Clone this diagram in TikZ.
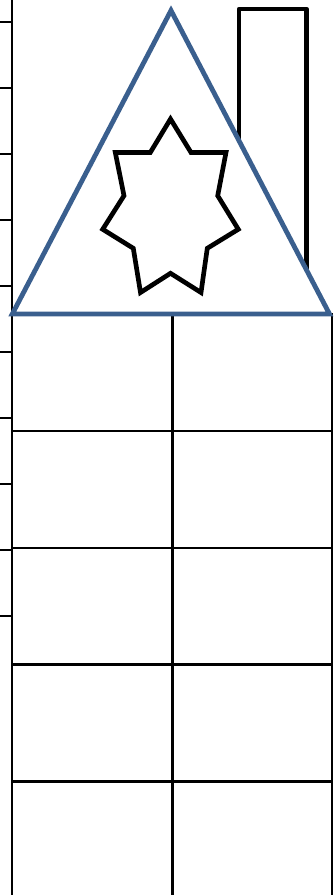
\documentclass[tikz,border=0pt]{standalone}
\usepackage{xcolor}
\definecolor{roofblue}{HTML}{3A5F8E}
\begin{document}
\begin{tikzpicture}[x=0.75pt,y=-0.75pt,
  gridline/.style={draw=black,line width=1.6pt},
  axisline/.style={draw=black,line width=2.2pt},
  tickline/.style={draw=black,line width=1.6pt},
  chimney/.style={draw=black,line width=3.4pt,line join=round,fill=white},
  roof/.style={draw=roofblue,line width=3.6pt,line join=miter,fill=white},
  starshape/.style={draw=black,line width=3.5pt,line join=miter,fill=white}]
\useasboundingbox (0,0) rectangle (333,895);
\fill[white] (0,0) rectangle (333,895);
% grid
\foreach \y in {431,548,664.5,781.5} \draw[gridline] (12,\y) -- (333,\y);
\draw[gridline] (172.5,313) -- (172.5,895);
\draw[gridline] (331.8,313) -- (331.8,895);
% left axis
\draw[axisline] (12,0) -- (12,895);
\foreach \y in {22,88,154,220,286,352,418,484,550,616} \draw[tickline] (0,\y) -- (12,\y);
% chimney
\draw[chimney] (239,9) rectangle (306.5,300);
% roof
\draw[roof] (171,10.5) -- (329.5,314) -- (12.3,314) -- cycle;
% star
\draw[starshape] (170.5,119) -- (191,152.5) -- (226,152.5) -- (217.7,195.7)
  -- (238.3,229.3) -- (207.3,248.3) -- (201,292.5) -- (170.5,273.3)
  -- (140.5,292.5) -- (133.3,248.3) -- (102.7,229.3) -- (124,195.7)
  -- (115.3,152.5) -- (150.3,152.5) -- cycle;
\end{tikzpicture}
\end{document}
